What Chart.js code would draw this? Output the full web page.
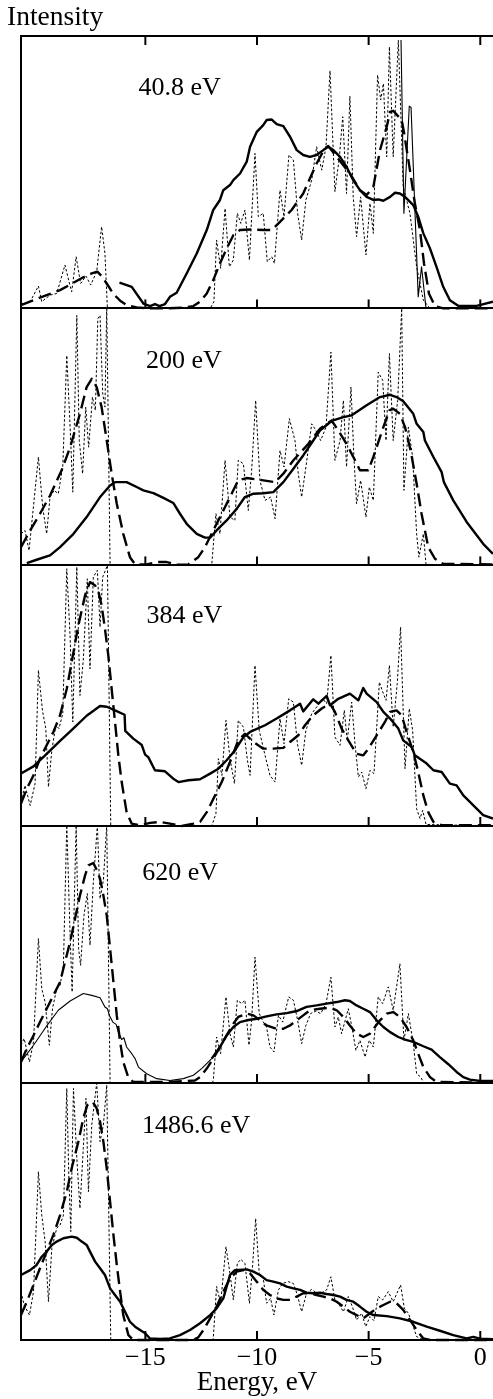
<!DOCTYPE html>
<html><head><meta charset="utf-8">
<script src="https://cdn.jsdelivr.net/npm/chart.js@4/dist/chart.umd.min.js"></script>
<style>html,body{margin:0;padding:0;background:#fff;}canvas{display:block;}</style>
</head><body>
<canvas id="c" width="493" height="1399"></canvas>
<script>
// ---- data (Energy in eV, intensity in arbitrary units per panel) ----
const xTicks = [-15, -10, -5, 0];
const panelLabels = ['40.8 eV', '200 eV', '384 eV', '620 eV', '1486.6 eV'];
const panelMax = [106, 100, 101.4, 100, 100];

const p1Solid = [[-16.16,10.0],[-15.61,8.4],[-15.09,1.9],[-14.79,0.9],[-14.57,1.7],[-14.37,0.9],[-14.12,1.7],[-13.90,4.5],[-13.60,6.1],[-13.15,13.6],[-12.70,21.4],[-12.25,30.5],[-11.96,38.3],[-11.66,42.2],[-11.51,46.0],[-11.21,48.0],[-11.06,49.9],[-10.76,52.5],[-10.46,57.1],[-10.31,62.9],[-10.01,68.7],[-9.72,71.3],[-9.57,73.3],[-9.34,73.5],[-9.12,71.7],[-8.82,70.9],[-8.52,66.8],[-8.22,61.6],[-7.93,59.7],[-7.63,59.0],[-7.33,59.7],[-7.03,61.6],[-6.81,62.9],[-6.58,61.6],[-6.28,59.0],[-5.99,55.1],[-5.69,49.9],[-5.39,46.0],[-5.09,43.4],[-4.79,42.2],[-4.57,42.4],[-4.34,41.9],[-4.04,43.4],[-3.82,45.0],[-3.60,44.7],[-3.37,43.4],[-3.00,40.2],[-2.78,35.7],[-2.55,29.2],[-2.25,23.3],[-1.96,16.2],[-1.66,8.4],[-1.36,3.2],[-0.99,1.0],[-0.16,1.0],[0.57,2.6]];
const p1Thin = [[-3.55,104.4],[-3.42,37.0],[-3.18,78.7],[-3.10,78.2],[-2.78,4.5],[-2.63,16.2],[-2.43,0]];
const p1Dashed = [[-20.57,1.3],[-20.01,3.2],[-19.42,5.2],[-18.82,7.1],[-18.22,10.0],[-17.78,12.1],[-17.40,13.6],[-17.15,14.3],[-16.96,12.6],[-16.73,9.7],[-16.43,5.6],[-16.13,3.0],[-15.84,1.3],[-15.39,0.4],[-14.79,0],[-14.04,0],[-13.30,0.3],[-12.85,0.9],[-12.55,2.6],[-12.25,5.8],[-11.96,11.0],[-11.66,17.5],[-11.36,23.3],[-11.06,28.5],[-10.76,30.5],[-10.31,30.7],[-9.72,30.5],[-9.34,30.5],[-8.97,33.7],[-8.45,38.3],[-7.93,44.7],[-7.33,56.4],[-6.96,62.3],[-6.81,63.2],[-6.43,59.0],[-5.84,52.5],[-5.39,46.0],[-5.09,44.1],[-4.79,47.3],[-4.49,61.6],[-4.19,70.7],[-4.04,76.5],[-3.90,76.9],[-3.52,73.3],[-3.42,68.7],[-3.15,53.8],[-2.93,40.9],[-2.70,30.5],[-2.52,17.5],[-2.30,5.8],[-2.03,0.9],[-1.66,0],[0.57,0]];
const p1Dotted = [[-20.57,1.7],[-20.16,2.6],[-19.79,8.7],[-19.64,2.6],[-19.27,5.2],[-18.97,5.8],[-18.60,16.9],[-18.42,10.4],[-18.30,6.5],[-18.10,20.1],[-17.90,9.7],[-17.66,12.6],[-17.45,9.1],[-17.18,14.3],[-16.96,31.8],[-16.81,21.4],[-16.70,0],[-12.10,0],[-11.93,2.6],[-11.81,26.6],[-11.63,15.6],[-11.43,38.9],[-11.24,16.2],[-11.06,18.8],[-10.88,37.0],[-10.73,33.1],[-10.54,38.3],[-10.34,18.8],[-10.09,60.3],[-9.94,35.7],[-9.72,37.0],[-9.54,18.2],[-9.34,20.1],[-9.22,17.5],[-8.97,46.0],[-8.79,35.7],[-8.57,59.7],[-8.37,57.7],[-8.18,37.0],[-8.00,26.6],[-7.81,42.2],[-7.55,49.9],[-7.33,62.9],[-7.10,53.8],[-6.91,62.9],[-6.73,92.5],[-6.51,45.4],[-6.31,59.0],[-6.16,74.6],[-5.99,44.7],[-5.84,82.6],[-5.69,43.4],[-5.54,27.9],[-5.36,43.4],[-5.12,20.8],[-4.94,40.9],[-4.79,29.2],[-4.60,90.8],[-4.46,81.1],[-4.34,87.5],[-4.19,59.0],[-4.07,101.8],[-3.90,59.0],[-3.67,104.4],[-3.45,47.3],[-3.15,37.0],[-2.85,16.2],[-2.55,3.2],[-2.25,0],[0.57,0]];

const p2Solid = [[-20.31,0.9],[-19.87,2.2],[-19.27,3.9],[-18.82,7.1],[-18.22,12.3],[-17.63,18.8],[-17.03,26.6],[-16.58,31.1],[-16.36,32.4],[-15.84,32.4],[-15.39,30.5],[-15.09,29.2],[-14.64,28.1],[-14.19,26.3],[-13.75,24.3],[-13.45,20.1],[-13.15,16.2],[-12.70,12.3],[-12.33,10.8],[-12.10,10.8],[-11.81,13.6],[-11.36,17.5],[-10.91,22.0],[-10.54,26.6],[-10.16,27.9],[-9.72,28.1],[-9.27,28.5],[-8.82,32.4],[-8.37,37.6],[-7.93,42.8],[-7.48,48.6],[-7.18,52.5],[-6.66,56.2],[-6.13,57.7],[-5.76,58.4],[-5.54,59.7],[-5.09,62.3],[-4.49,65.5],[-4.04,66.4],[-3.75,65.5],[-3.45,63.9],[-3.00,59.0],[-2.85,55.1],[-2.55,51.9],[-2.48,48.6],[-2.10,42.2],[-1.73,36.3],[-1.63,32.4],[-1.21,25.3],[-0.61,16.9],[0.13,8.4],[0.57,4.5]];
const p2Dashed = [[-20.57,7.1],[-20.16,13.6],[-19.72,20.1],[-19.27,27.2],[-18.75,37.0],[-18.37,46.0],[-17.93,59.0],[-17.63,69.4],[-17.40,72.6],[-17.18,69.4],[-16.96,61.6],[-16.73,48.6],[-16.51,35.7],[-16.28,24.0],[-15.99,12.3],[-15.69,3.2],[-15.46,0.4],[-14.94,0.4],[-14.49,1.3],[-14.04,1.3],[-13.60,0.3],[-13.07,0.4],[-12.63,3.2],[-12.33,7.1],[-11.96,13.6],[-11.58,20.1],[-11.21,26.6],[-10.84,33.1],[-10.46,34.0],[-9.72,33.1],[-9.19,32.4],[-8.82,35.7],[-8.37,40.9],[-7.70,47.3],[-7.18,53.2],[-6.66,56.4],[-6.36,52.5],[-5.99,47.3],[-5.61,40.9],[-5.39,37.0],[-5.01,37.0],[-4.79,42.2],[-4.34,53.8],[-4.07,60.3],[-3.90,61.0],[-3.60,59.0],[-3.37,53.8],[-3.12,44.7],[-2.85,31.8],[-2.63,20.1],[-2.33,7.1],[-2.03,2.6],[-1.66,0.6],[0.57,0.4]];
const p2Dotted = [[-20.57,12.3],[-20.39,13.6],[-20.21,5.8],[-19.79,42.2],[-19.60,22.7],[-19.42,12.3],[-19.27,26.6],[-19.09,29.2],[-18.90,27.9],[-18.70,38.3],[-18.52,81.7],[-18.37,53.8],[-18.25,28.5],[-18.07,97.3],[-17.96,48.6],[-17.81,35.7],[-17.67,61.6],[-17.54,46.0],[-17.37,65.5],[-17.24,60.3],[-17.13,96.0],[-17.03,97.3],[-16.91,66.8],[-16.81,61.6],[-16.73,100.5],[-16.58,0],[-12.03,0],[-11.84,20.1],[-11.66,12.3],[-11.43,40.9],[-11.21,18.8],[-10.99,17.5],[-10.84,40.9],[-10.61,39.6],[-10.39,21.4],[-10.24,37.0],[-10.06,64.2],[-9.87,33.1],[-9.64,25.3],[-9.39,26.6],[-9.19,18.2],[-8.97,44.7],[-8.79,38.3],[-8.55,57.1],[-8.30,48.6],[-8.15,35.7],[-8.00,26.6],[-7.81,38.3],[-7.55,55.1],[-7.36,52.5],[-7.15,48.6],[-6.91,53.8],[-6.69,83.0],[-6.51,40.9],[-6.28,48.6],[-6.13,64.2],[-5.99,38.3],[-5.79,69.4],[-5.66,42.2],[-5.54,24.0],[-5.36,33.1],[-5.12,18.8],[-4.97,30.5],[-4.79,25.3],[-4.57,75.2],[-4.37,72.0],[-4.22,48.6],[-4.07,82.4],[-3.90,48.6],[-3.70,64.2],[-3.52,100.0],[-3.42,29.2],[-3.22,53.8],[-3.03,42.2],[-2.85,12.3],[-2.75,3.2],[-2.55,12.3],[-2.43,0.4],[0.57,0]];

const p3Solid = [[-20.57,20.4],[-20.01,23.2],[-19.49,27.5],[-18.82,33.1],[-18.22,38.0],[-17.63,42.9],[-17.03,46.7],[-16.73,46.4],[-16.36,45.0],[-15.93,43.3],[-15.90,37.0],[-15.54,34.0],[-15.16,31.5],[-15.01,27.8],[-14.87,26.8],[-14.57,21.7],[-14.12,21.3],[-13.75,18.4],[-13.52,17.1],[-13.07,17.8],[-12.55,18.2],[-12.10,20.4],[-11.73,22.3],[-11.36,25.6],[-10.99,29.4],[-10.61,34.6],[-10.31,36.6],[-9.64,39.2],[-9.12,41.8],[-8.52,45.0],[-8.07,47.6],[-7.93,44.6],[-7.48,49.3],[-7.25,47.6],[-6.88,50.6],[-6.73,47.0],[-6.36,49.5],[-5.84,51.5],[-5.46,48.9],[-5.24,53.7],[-5.09,51.5],[-4.64,48.2],[-4.34,44.4],[-4.04,41.8],[-3.67,37.9],[-3.45,33.3],[-3.07,30.7],[-2.93,27.5],[-2.40,24.3],[-2.10,21.7],[-1.73,21.0],[-1.36,16.5],[-1.06,15.8],[-0.76,11.9],[-0.31,8.0],[0.13,4.2],[0.57,2.9]];
const p3Dashed = [[-20.57,8.7],[-20.31,14.5],[-20.01,19.7],[-19.72,26.2],[-19.42,31.4],[-19.12,36.6],[-18.82,43.1],[-18.52,53.4],[-18.30,63.8],[-18.00,78.1],[-17.70,89.8],[-17.48,94.9],[-17.25,93.6],[-17.10,91.1],[-16.96,85.9],[-16.81,76.8],[-16.66,66.4],[-16.51,53.4],[-16.36,40.5],[-16.21,27.5],[-16.06,17.1],[-15.84,5.4],[-15.61,0.9],[-15.24,0.3],[-14.79,1.2],[-14.34,1.6],[-13.90,0.9],[-13.37,0],[-12.85,0.9],[-12.55,1.6],[-12.25,5.4],[-11.88,11.9],[-11.58,17.1],[-11.21,24.9],[-10.84,33.3],[-10.54,35.9],[-10.16,32.7],[-9.72,30.1],[-9.27,30.1],[-8.82,30.4],[-8.52,32.7],[-8.15,35.3],[-7.85,39.2],[-7.48,43.1],[-7.10,45.7],[-6.73,47.6],[-6.51,44.4],[-6.21,37.9],[-5.91,33.3],[-5.54,28.1],[-5.24,27.5],[-5.01,30.1],[-4.64,35.3],[-4.27,40.5],[-4.04,44.4],[-3.75,45.0],[-3.52,43.1],[-3.30,36.6],[-3.00,28.8],[-2.78,21.0],[-2.55,11.9],[-2.33,5.4],[-2.10,1.6],[-1.73,0.3],[0.57,0.3]];
const p3Dotted = [[-20.57,9.3],[-20.39,15.8],[-20.16,8.0],[-19.94,16.5],[-19.79,60.6],[-19.61,45.0],[-19.46,37.9],[-19.34,15.2],[-19.19,29.4],[-19.01,39.2],[-18.87,37.9],[-18.70,43.7],[-18.52,100.1],[-18.37,73.5],[-18.25,40.5],[-18.07,100.8],[-17.93,50.8],[-17.78,64.5],[-17.60,96.2],[-17.48,61.2],[-17.33,96.9],[-17.15,99.5],[-17.03,77.4],[-16.91,96.9],[-16.70,101.4],[-16.55,0],[-12.03,0],[-11.84,4.8],[-11.73,26.2],[-11.57,19.7],[-11.39,41.1],[-11.21,26.2],[-11.01,16.5],[-10.84,41.1],[-10.61,38.5],[-10.43,25.6],[-10.31,19.7],[-10.09,62.5],[-9.90,37.2],[-9.64,27.5],[-9.42,19.7],[-9.19,17.1],[-8.97,41.8],[-8.79,32.0],[-8.58,49.5],[-8.37,48.2],[-8.19,32.0],[-8.00,23.6],[-7.81,37.2],[-7.55,43.7],[-7.33,46.3],[-7.06,49.5],[-6.88,47.6],[-6.69,66.4],[-6.51,34.6],[-6.28,31.4],[-6.09,45.0],[-5.96,33.3],[-5.76,48.2],[-5.61,32.0],[-5.46,19.1],[-5.31,21.0],[-5.12,14.5],[-4.94,21.7],[-4.76,20.4],[-4.52,56.0],[-4.34,51.5],[-4.22,48.9],[-4.07,62.5],[-3.90,38.5],[-3.72,55.4],[-3.57,77.4],[-3.37,22.3],[-3.18,45.7],[-3.03,37.2],[-2.85,6.7],[-2.70,2.9],[-2.58,6.1],[-2.43,0.6],[0.57,0]];

const p4Thin = [[-20.57,8.2],[-20.01,14.7],[-19.42,22.2],[-18.90,28.3],[-18.37,31.9],[-17.78,34.8],[-17.40,34.1],[-17.03,33.2],[-16.81,29.6],[-16.70,28.9],[-16.61,26.3],[-16.46,23.7],[-16.31,22.8],[-16.21,19.8],[-16.06,16.9],[-15.96,17.6],[-15.84,14.0],[-15.61,11.4],[-15.46,9.5],[-15.31,6.2],[-14.94,3.6],[-14.49,1.7],[-13.90,1.0],[-13.30,1.7],[-12.85,3.0],[-12.48,5.6],[-12.03,9.5]];
const p4Solid = [[-12.03,9.5],[-11.66,14.0],[-11.36,18.5],[-11.06,21.8],[-10.76,23.7],[-10.46,24.4],[-10.01,25.0],[-9.57,25.9],[-9.12,26.7],[-8.67,27.2],[-8.22,28.0],[-7.78,29.6],[-7.33,30.2],[-6.88,30.9],[-6.43,31.5],[-6.06,32.2],[-5.84,31.9],[-5.54,30.2],[-5.24,28.9],[-4.94,27.6],[-4.64,24.4],[-4.34,21.8],[-4.04,19.8],[-3.67,17.9],[-3.37,16.9],[-3.00,16.0],[-2.55,14.3],[-2.18,13.0],[-1.81,10.1],[-1.43,7.3],[-1.06,4.3],[-0.76,2.3],[-0.46,1.3],[-0.01,0.8],[0.57,0.8]];
const p4Dashed = [[-20.57,8.2],[-20.31,13.4],[-20.01,18.5],[-19.72,23.7],[-19.42,28.9],[-19.12,34.1],[-18.82,39.3],[-18.60,47.1],[-18.37,54.9],[-18.15,63.9],[-17.93,73.0],[-17.70,80.8],[-17.55,84.7],[-17.33,85.6],[-17.18,83.0],[-17.03,79.5],[-16.88,73.0],[-16.73,65.2],[-16.58,52.3],[-16.43,39.3],[-16.28,26.3],[-16.13,16.0],[-15.99,8.2],[-15.76,2.1],[-15.54,0.4],[-14.04,0.4],[-12.78,1.0],[-12.55,2.3],[-12.25,5.6],[-11.96,9.5],[-11.66,14.0],[-11.36,18.5],[-11.06,23.1],[-10.84,25.7],[-10.46,27.0],[-10.16,26.3],[-9.87,24.4],[-9.57,22.4],[-9.12,21.1],[-8.82,21.1],[-8.52,22.4],[-8.22,24.4],[-7.93,26.3],[-7.63,28.3],[-7.18,28.9],[-6.73,29.3],[-6.43,28.3],[-6.13,25.7],[-5.84,22.4],[-5.54,19.2],[-5.24,17.9],[-4.94,19.2],[-4.72,21.8],[-4.49,24.4],[-4.19,27.0],[-3.90,27.6],[-3.60,25.7],[-3.30,21.8],[-3.00,16.6],[-2.78,11.4],[-2.55,6.2],[-2.25,2.3],[-1.96,0.4],[0.57,0.1]];
const p4Dotted = [[-20.57,14.7],[-20.43,17.3],[-20.19,8.2],[-20.01,16.0],[-19.79,56.2],[-19.64,36.7],[-19.49,31.5],[-19.30,14.7],[-19.16,28.9],[-18.97,36.7],[-18.82,38.0],[-18.67,45.8],[-18.52,100.3],[-18.37,57.5],[-18.28,35.4],[-18.10,100.3],[-17.99,52.3],[-17.90,45.8],[-17.75,65.2],[-17.60,73.7],[-17.48,53.6],[-17.33,78.2],[-17.15,100.3],[-17.03,71.7],[-16.88,78.9],[-16.73,100.3],[-16.58,0],[-12.03,0],[-11.96,0.8],[-11.81,17.9],[-11.63,11.4],[-11.39,33.5],[-11.21,19.2],[-11.06,14.0],[-10.88,32.2],[-10.69,30.9],[-10.54,32.2],[-10.36,14.7],[-10.24,24.4],[-10.09,49.0],[-9.90,27.0],[-9.72,23.7],[-9.57,21.8],[-9.42,14.0],[-9.24,12.1],[-9.04,26.3],[-8.85,23.7],[-8.58,33.5],[-8.37,32.2],[-8.18,24.4],[-8.00,15.3],[-7.81,22.4],[-7.60,27.0],[-7.36,28.0],[-7.15,27.0],[-6.91,30.9],[-6.69,41.2],[-6.51,21.8],[-6.36,25.7],[-6.21,19.2],[-5.91,28.9],[-5.75,21.8],[-5.57,12.7],[-5.39,16.6],[-5.16,10.1],[-4.97,16.6],[-4.79,14.0],[-4.57,33.5],[-4.37,30.9],[-4.12,37.4],[-3.90,28.3],[-3.60,46.4],[-3.42,16.6],[-3.22,27.0],[-3.00,15.3],[-2.85,3.6],[-2.67,2.3],[-2.52,0],[0.57,0]];

const p5Solid = [[-20.57,25.3],[-20.16,27.2],[-19.87,29.2],[-19.64,32.4],[-19.42,34.4],[-19.19,37.0],[-18.97,38.3],[-18.67,39.6],[-18.30,40.2],[-18.07,39.8],[-17.85,38.3],[-17.63,37.0],[-17.48,34.4],[-17.25,30.5],[-17.03,27.9],[-16.81,25.3],[-16.58,20.1],[-16.36,17.5],[-16.13,14.9],[-15.91,11.0],[-15.69,7.1],[-15.46,5.2],[-15.24,3.9],[-15.01,2.6],[-14.79,0.6],[-14.34,0.4],[-13.90,0.6],[-13.45,1.9],[-13.00,3.9],[-12.55,6.5],[-12.10,9.7],[-11.81,12.3],[-11.51,16.2],[-11.21,25.3],[-10.99,27.2],[-10.46,27.5],[-10.16,26.6],[-9.87,25.3],[-9.57,23.3],[-9.27,22.7],[-8.97,22.0],[-8.67,20.8],[-8.37,20.1],[-8.07,19.5],[-7.78,18.4],[-7.48,18.2],[-7.18,18.4],[-6.88,17.9],[-6.58,17.5],[-6.28,16.9],[-5.99,15.6],[-5.69,14.9],[-5.39,13.0],[-5.09,11.0],[-4.79,9.7],[-4.19,9.3],[-3.60,8.4],[-3.00,7.1],[-2.40,5.2],[-1.81,3.6],[-1.21,1.9],[-0.61,0.6],[-0.31,1.2],[-0.01,0.5],[0.57,0.3]];
const p5Dashed = [[-20.57,9.7],[-20.31,14.9],[-20.01,21.4],[-19.72,27.9],[-19.42,34.4],[-19.12,40.9],[-18.82,48.6],[-18.52,57.7],[-18.30,66.8],[-18.00,77.2],[-17.78,86.3],[-17.60,91.4],[-17.36,92.7],[-17.18,90.1],[-17.03,85.0],[-16.88,77.2],[-16.73,66.8],[-16.58,53.8],[-16.43,40.9],[-16.28,29.2],[-16.13,18.8],[-15.99,9.7],[-15.76,1.9],[-15.54,0],[-12.85,0],[-12.63,1.0],[-12.40,3.9],[-12.10,8.4],[-11.81,13.0],[-11.51,18.8],[-11.21,24.0],[-10.91,26.6],[-10.61,27.2],[-10.31,25.9],[-10.01,22.7],[-9.72,19.5],[-9.42,17.5],[-9.12,16.2],[-8.82,15.6],[-8.52,15.6],[-8.22,16.9],[-7.93,18.2],[-7.63,18.2],[-7.33,17.5],[-7.03,16.9],[-6.73,16.2],[-6.43,14.9],[-6.13,13.0],[-5.84,11.0],[-5.54,9.7],[-5.24,8.4],[-4.94,10.4],[-4.64,12.3],[-4.34,13.6],[-4.04,14.9],[-3.75,14.3],[-3.45,11.7],[-3.15,7.8],[-2.85,3.9],[-2.55,0.6],[-2.25,0],[0.57,0]];
const p5Dotted = [[-20.57,18.8],[-20.43,13.6],[-20.19,9.7],[-20.01,18.8],[-19.79,65.5],[-19.64,48.6],[-19.49,38.3],[-19.34,14.9],[-19.19,35.7],[-18.97,43.5],[-18.82,44.7],[-18.67,48.6],[-18.52,97.9],[-18.43,64.2],[-18.34,42.2],[-18.22,97.9],[-18.07,70.7],[-17.93,51.2],[-17.78,74.6],[-17.66,94.0],[-17.55,57.7],[-17.40,83.7],[-17.18,99.9],[-17.03,77.2],[-16.88,83.7],[-16.73,99.2],[-16.55,0],[-12.03,0],[-11.96,0.5],[-11.81,20.8],[-11.63,14.3],[-11.39,36.3],[-11.21,25.9],[-11.06,15.6],[-10.88,29.8],[-10.73,31.4],[-10.54,29.8],[-10.34,14.3],[-10.21,27.2],[-10.06,47.3],[-9.90,25.9],[-9.72,24.0],[-9.57,14.3],[-9.39,16.2],[-9.24,9.7],[-9.04,19.5],[-8.85,22.0],[-8.60,22.7],[-8.37,22.0],[-8.19,17.5],[-8.00,11.0],[-7.78,18.2],[-7.55,19.7],[-7.33,18.2],[-7.10,18.4],[-6.88,19.5],[-6.69,24.6],[-6.51,15.6],[-6.31,13.6],[-6.13,11.0],[-5.91,16.9],[-5.73,13.0],[-5.54,7.8],[-5.31,10.4],[-5.13,5.2],[-4.94,9.1],[-4.76,7.5],[-4.57,16.9],[-4.37,15.6],[-4.12,18.8],[-3.90,14.9],[-3.57,21.4],[-3.40,12.3],[-3.22,10.4],[-3.00,5.2],[-2.85,1.3],[-2.67,0.6],[-2.52,0],[0.57,0]];

// ---- chart ----
const FONT = "'Liberation Serif','Times New Roman',serif";
Chart.defaults.font.family = FONT;
Chart.defaults.color = '#000';

const labelX = [-15.31, -14.97, -14.95, -15.14, -15.15];
const labelY = [83.0, 76.7, 78.9, 78.9, 80.6];

const lineStyles = {
  solid:  {borderWidth: 2.4, borderDash: []},
  thin:   {borderWidth: 1.1, borderDash: []},
  dashed: {borderWidth: 2.4, borderDash: [13, 6]},
  dotted: {borderWidth: 1, borderDash: [2.5, 2]}
};
function makeDs(points, panel, style) {
  return Object.assign({
    data: points.map(p => ({x: p[0], y: p[1]})),
    yAxisID: 'p' + panel,
    borderColor: '#000',
    backgroundColor: '#000',
    pointRadius: 0,
    pointHoverRadius: 0,
    fill: false,
    tension: 0,
    borderJoinStyle: 'round',
    borderCapStyle: 'butt',
    clip: false
  }, lineStyles[style]);
}

const datasets = [
  makeDs(p1Dotted,1,'dotted'), makeDs(p1Dashed,1,'dashed'), makeDs(p1Solid,1,'solid'), makeDs(p1Thin,1,'thin'),
  makeDs(p2Dotted,2,'dotted'), makeDs(p2Dashed,2,'dashed'), makeDs(p2Solid,2,'solid'),
  makeDs(p3Dotted,3,'dotted'), makeDs(p3Dashed,3,'dashed'), makeDs(p3Solid,3,'solid'),
  makeDs(p4Dotted,4,'dotted'), makeDs(p4Dashed,4,'dashed'), makeDs(p4Thin,4,'thin'), makeDs(p4Solid,4,'solid'),
  makeDs(p5Dotted,5,'dotted'), makeDs(p5Dashed,5,'dashed'), makeDs(p5Solid,5,'solid')
];

const scales = {
  x: {
    type: 'linear', position: 'bottom', min: -20.57, max: 0.57,
    afterBuildTicks: s => { s.ticks = xTicks.map(v => ({value: v})); },
    afterFit: s => { s.height = 59; },
    ticks: {
      callback: v => (v < 0 ? '\u2212' + Math.abs(v) : String(v)),
      font: {size: 26, family: FONT}, padding: 3, maxRotation: 0, autoSkip: false, color: '#000'
    },
    grid: {drawOnChartArea: false, drawTicks: false},
    border: {display: true, color: '#000', width: 2},
    title: {display: true, text: 'Energy, eV', font: {size: 27, family: FONT}, padding: 0, color: '#000'}
  }
};
for (let i = 5; i >= 1; i--) {
  const mx = panelMax[i - 1];
  scales['p' + i] = {
    type: 'linear', position: 'left', stack: 'panels', stackWeight: mx,
    min: 0, max: mx,
    afterBuildTicks: s => { s.ticks = (i === 1) ? [{value: 0}, {value: mx}] : [{value: 0}]; },
    afterFit: s => { s.width = 14; },
    ticks: {display: false},
    grid: {drawTicks: false, color: '#000', lineWidth: 2},
    border: {display: true, color: '#000', width: 2}
  };
}

const decor = {
  id: 'decor',
  afterDatasetsDraw(chart) {
    const ctx = chart.ctx, xs = chart.scales.x;
    ctx.save();
    ctx.strokeStyle = '#000';
    ctx.lineWidth = 2;
    ctx.setLineDash([]);
    for (let i = 1; i <= 5; i++) {
      const ys = chart.scales['p' + i];
      const yb = ys.getPixelForValue(0);
      xTicks.forEach(v => {
        const px = xs.getPixelForValue(v);
        ctx.beginPath(); ctx.moveTo(px, yb); ctx.lineTo(px, yb - 9); ctx.stroke();
        if (i === 1) {
          const yt = ys.getPixelForValue(panelMax[0]);
          ctx.beginPath(); ctx.moveTo(px, yt); ctx.lineTo(px, yt + 9); ctx.stroke();
        }
      });
      ctx.fillStyle = '#000';
      ctx.font = '26px ' + FONT;
      ctx.textAlign = 'left';
      ctx.textBaseline = 'alphabetic';
      ctx.fillText(panelLabels[i - 1], xs.getPixelForValue(labelX[i - 1]), ys.getPixelForValue(labelY[i - 1]));
    }
    ctx.restore();
  }
};

new Chart(document.getElementById('c'), {
  type: 'line',
  data: {datasets},
  options: {
    responsive: false,
    animation: false,
    devicePixelRatio: 1,
    events: [],
    layout: {padding: {left: 7, right: 0, top: 0, bottom: 0}},
    plugins: {
      legend: {display: false},
      tooltip: {enabled: false},
      title: {
        display: true, text: 'Intensity', align: 'start', color: '#000',
        font: {size: 27.5, weight: 'normal', family: FONT},
        padding: {top: 1, bottom: 2}
      }
    },
    scales
  },
  plugins: [decor]
});
</script>
</body></html>
